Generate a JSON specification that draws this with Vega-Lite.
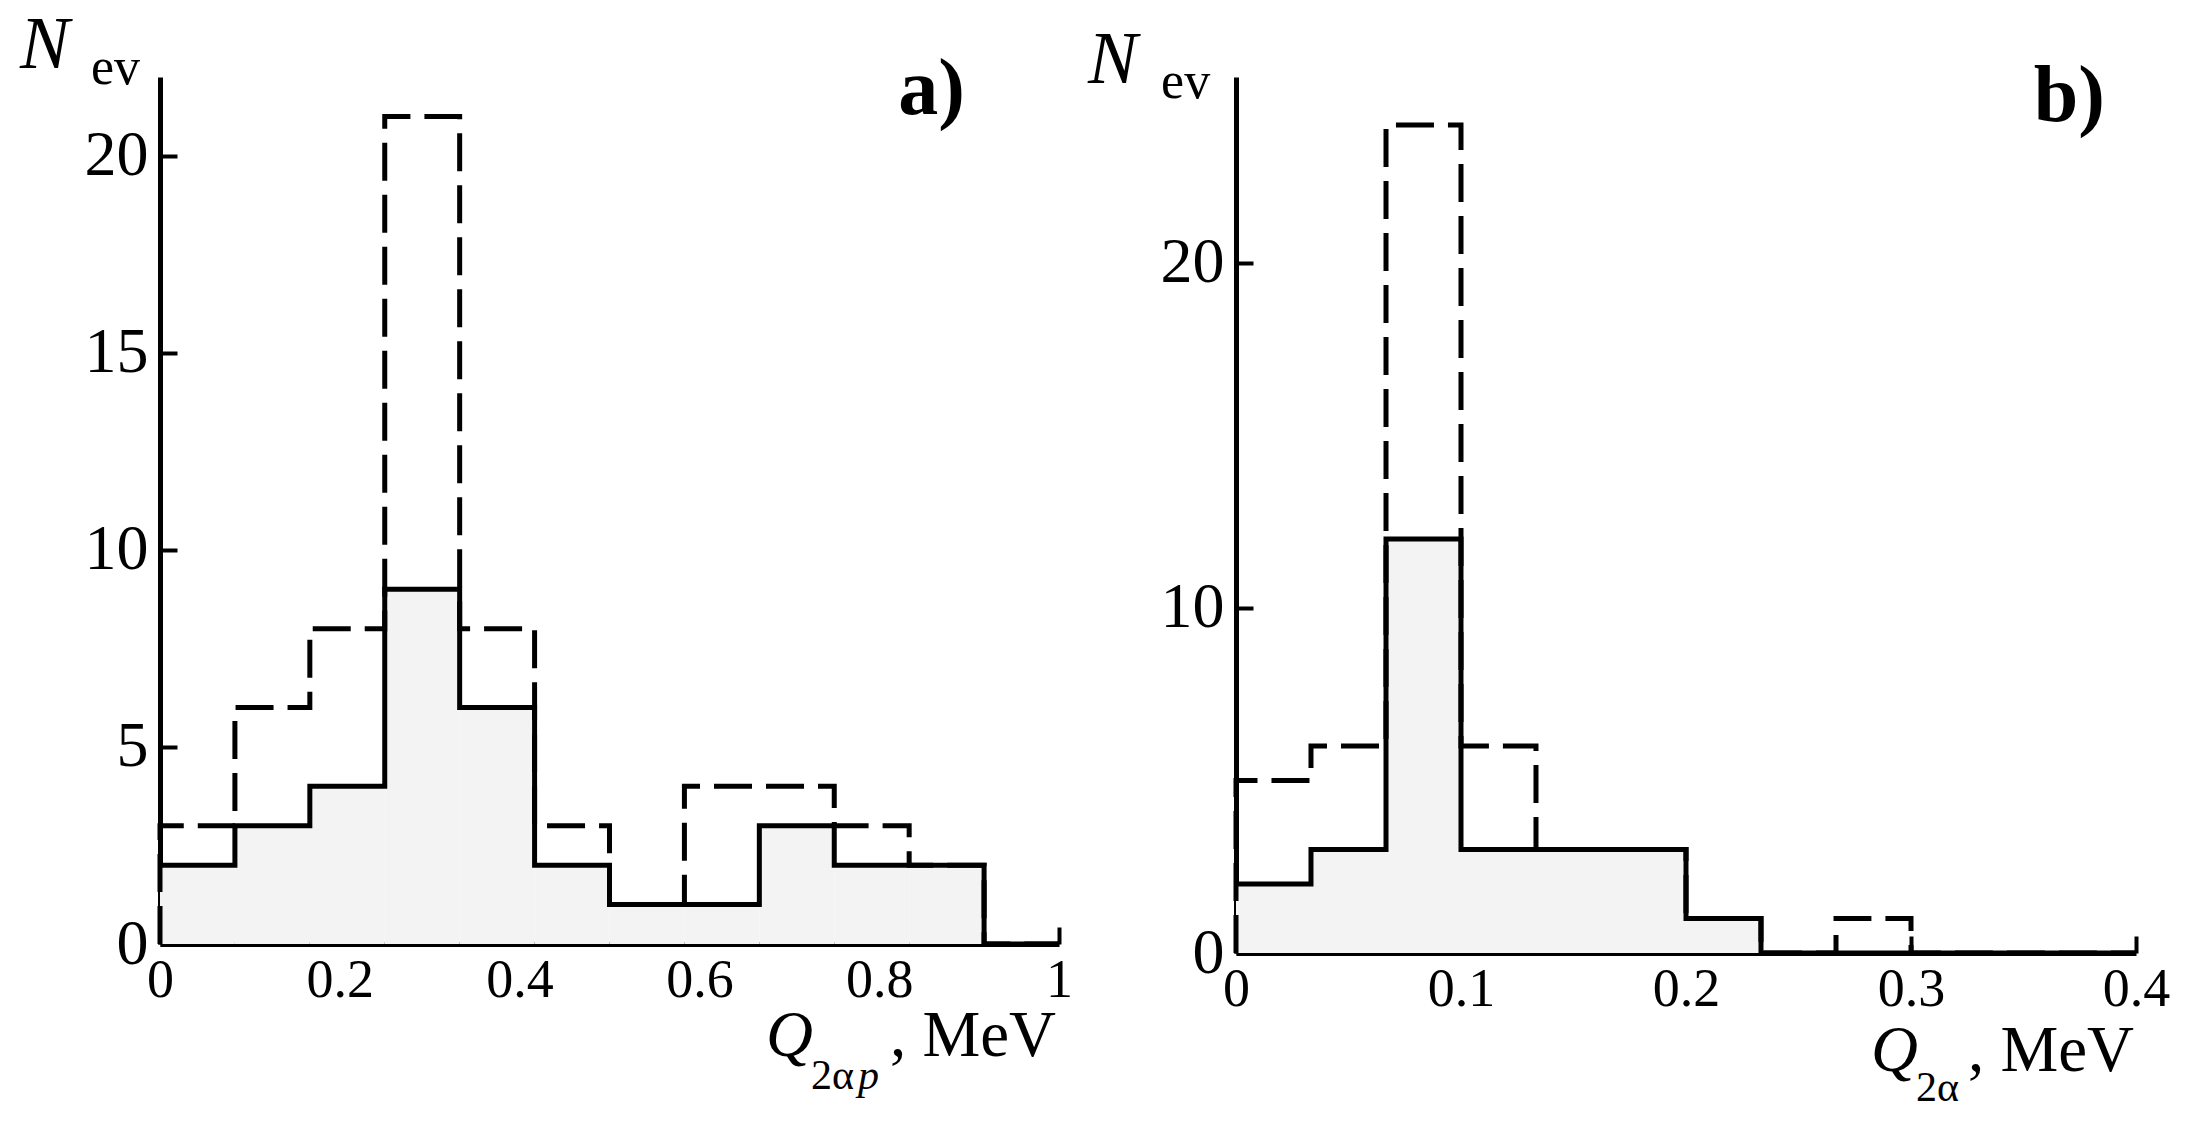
{
  "$schema": "https://vega.github.io/schema/vega-lite/v6.json",
  "background": "white",
  "padding": {"left": 20, "top": 8, "right": 0, "bottom": 0},
  "spacing": 177,
  "bounds": "flush",
  "config": {
    "view": {"stroke": null},
    "font": "Liberation Serif",
    "axis": {
      "domainColor": "black",
      "domainWidth": 5,
      "tickColor": "black",
      "tickWidth": 4,
      "tickSize": -17,
      "labelFont": "Liberation Serif",
      "labelColor": "black",
      "grid": false,
      "title": null,
      "labelFlush": false,
      "labelOverlap": false,
      "labelExpr": "'' + datum.value"
    },
    "axisX": {"labelFontSize": 54, "labelPadding": 26},
    "axisY": {"labelFontSize": 64, "labelPadding": 29},
    "text": {"color": "black", "font": "Liberation Serif", "baseline": "alphabetic", "clip": false, "align": "left"}
  },
  "hconcat": [
    {
      "width": 899,
      "height": 867,
      "data": {
        "values": [
          {"s": "solid", "i": 1, "q": 0, "n": 2},
          {"s": "solid", "i": 2, "q": 0.08333, "n": 3},
          {"s": "solid", "i": 3, "q": 0.16667, "n": 4},
          {"s": "solid", "i": 4, "q": 0.25, "n": 9},
          {"s": "solid", "i": 5, "q": 0.33333, "n": 6},
          {"s": "solid", "i": 6, "q": 0.41667, "n": 2},
          {"s": "solid", "i": 7, "q": 0.5, "n": 1},
          {"s": "solid", "i": 8, "q": 0.58333, "n": 1},
          {"s": "solid", "i": 9, "q": 0.66667, "n": 3},
          {"s": "solid", "i": 10, "q": 0.75, "n": 2},
          {"s": "solid", "i": 11, "q": 0.83333, "n": 2},
          {"s": "solid", "i": 12, "q": 0.91667, "n": 0},
          {"s": "solid", "i": 13, "q": 1, "n": 0},
          {"s": "dashed", "i": 0, "q": 0, "n": 0},
          {"s": "dashed", "i": 1, "q": 0, "n": 3},
          {"s": "dashed", "i": 2, "q": 0.08333, "n": 6},
          {"s": "dashed", "i": 3, "q": 0.16667, "n": 8},
          {"s": "dashed", "i": 4, "q": 0.25, "n": 21},
          {"s": "dashed", "i": 5, "q": 0.33333, "n": 8},
          {"s": "dashed", "i": 6, "q": 0.41667, "n": 3},
          {"s": "dashed", "i": 7, "q": 0.5, "n": 1},
          {"s": "dashed", "i": 8, "q": 0.58333, "n": 4},
          {"s": "dashed", "i": 9, "q": 0.66667, "n": 4},
          {"s": "dashed", "i": 10, "q": 0.75, "n": 3},
          {"s": "dashed", "i": 11, "q": 0.83333, "n": 2},
          {"s": "dashed", "i": 12, "q": 0.91667, "n": 0},
          {"s": "dashed", "i": 13, "q": 1, "n": 0}
        ]
      },
      "layer": [
        {
          "transform": [{"filter": "datum.s == 'solid'"}],
          "mark": {"type": "area", "interpolate": "step-after", "color": "#f3f3f3"},
          "encoding": {
            "x": {
              "field": "q",
              "type": "quantitative",
              "scale": {"domain": [0, 1], "nice": false, "zero": false},
              "axis": {"values": [0, 0.2, 0.4, 0.6, 0.8, 1]}
            },
            "y": {
              "field": "n",
              "type": "quantitative",
              "scale": {"domain": [0, 22], "nice": false},
              "axis": {"values": [0, 5, 10, 15, 20]}
            },
            "order": {"field": "i"}
          }
        },
        {
          "transform": [{"filter": "datum.s == 'dashed'"}],
          "mark": {"type": "line", "interpolate": "step-after", "color": "black", "strokeWidth": 5, "strokeDash": [38, 14]},
          "encoding": {"x": {"field": "q", "type": "quantitative"}, "y": {"field": "n", "type": "quantitative"}, "order": {"field": "i"}}
        },
        {
          "transform": [{"filter": "datum.s == 'solid'"}],
          "mark": {"type": "line", "interpolate": "step-after", "color": "black", "strokeWidth": 5},
          "encoding": {"x": {"field": "q", "type": "quantitative"}, "y": {"field": "n", "type": "quantitative"}, "order": {"field": "i"}}
        },
        {
          "data": {"values": [{"k": 1}]},
          "mark": {"type": "text", "fontStyle": "italic", "fontSize": 74},
          "encoding": {"x": {"datum": -0.1557, "type": "quantitative"}, "y": {"datum": 22.23, "type": "quantitative"}, "text": {"value": "N"}}
        },
        {
          "data": {"values": [{"k": 1}]},
          "mark": {"type": "text", "fontSize": 52},
          "encoding": {"x": {"datum": -0.0768, "type": "quantitative"}, "y": {"datum": 21.82, "type": "quantitative"}, "text": {"value": "ev"}}
        },
        {
          "data": {"values": [{"k": 1}]},
          "mark": {"type": "text", "fontSize": 80, "fontWeight": "bold", "align": "right"},
          "encoding": {"x": {"datum": 0.8954, "type": "quantitative"}, "y": {"datum": 21.06, "type": "quantitative"}, "text": {"value": "a)"}}
        },
        {
          "data": {"values": [{"k": 1}]},
          "mark": {"type": "text", "fontStyle": "italic", "fontSize": 65},
          "encoding": {"x": {"datum": 0.674, "type": "quantitative"}, "y": {"datum": -2.842, "type": "quantitative"}, "text": {"value": "Q"}}
        },
        {
          "data": {"values": [{"k": 1}]},
          "mark": {"type": "text", "fontSize": 42},
          "encoding": {"x": {"datum": 0.7241, "type": "quantitative"}, "y": {"datum": -3.679, "type": "quantitative"}, "text": {"value": "2α"}}
        },
        {
          "data": {"values": [{"k": 1}]},
          "mark": {"type": "text", "fontStyle": "italic", "fontSize": 42},
          "encoding": {"x": {"datum": 0.7764, "type": "quantitative"}, "y": {"datum": -3.679, "type": "quantitative"}, "text": {"value": "p"}}
        },
        {
          "data": {"values": [{"k": 1}]},
          "mark": {"type": "text", "fontSize": 65, "align": "right"},
          "encoding": {"x": {"datum": 0.9967, "type": "quantitative"}, "y": {"datum": -2.842, "type": "quantitative"}, "text": {"value": ", MeV"}}
        }
      ]
    },
    {
      "width": 900,
      "height": 876,
      "data": {
        "values": [
          {"s": "solid", "i": 1, "q": 0, "n": 2},
          {"s": "solid", "i": 2, "q": 0.03333, "n": 3},
          {"s": "solid", "i": 3, "q": 0.06667, "n": 12},
          {"s": "solid", "i": 4, "q": 0.1, "n": 3},
          {"s": "solid", "i": 5, "q": 0.13333, "n": 3},
          {"s": "solid", "i": 6, "q": 0.16667, "n": 3},
          {"s": "solid", "i": 7, "q": 0.2, "n": 1},
          {"s": "solid", "i": 8, "q": 0.23333, "n": 0},
          {"s": "solid", "i": 9, "q": 0.4, "n": 0},
          {"s": "dashed", "i": 0, "q": 0, "n": 0},
          {"s": "dashed", "i": 1, "q": 0, "n": 5},
          {"s": "dashed", "i": 2, "q": 0.03333, "n": 6},
          {"s": "dashed", "i": 3, "q": 0.06667, "n": 24},
          {"s": "dashed", "i": 4, "q": 0.1, "n": 6},
          {"s": "dashed", "i": 5, "q": 0.13333, "n": 3},
          {"s": "dashed", "i": 6, "q": 0.16667, "n": 3},
          {"s": "dashed", "i": 7, "q": 0.2, "n": 1},
          {"s": "dashed", "i": 8, "q": 0.23333, "n": 0},
          {"s": "dashed", "i": 9, "q": 0.26667, "n": 1},
          {"s": "dashed", "i": 10, "q": 0.3, "n": 0},
          {"s": "dashed", "i": 11, "q": 0.4, "n": 0}
        ]
      },
      "layer": [
        {
          "transform": [{"filter": "datum.s == 'solid'"}],
          "mark": {"type": "area", "interpolate": "step-after", "color": "#f3f3f3"},
          "encoding": {
            "x": {
              "field": "q",
              "type": "quantitative",
              "scale": {"domain": [0, 0.4], "nice": false, "zero": false},
              "axis": {"values": [0, 0.1, 0.2, 0.3, 0.4]}
            },
            "y": {
              "field": "n",
              "type": "quantitative",
              "scale": {"domain": [0, 25.39], "nice": false},
              "axis": {"values": [0, 10, 20]}
            },
            "order": {"field": "i"}
          }
        },
        {
          "transform": [{"filter": "datum.s == 'dashed'"}],
          "mark": {"type": "line", "interpolate": "step-after", "color": "black", "strokeWidth": 5, "strokeDash": [38, 14]},
          "encoding": {"x": {"field": "q", "type": "quantitative"}, "y": {"field": "n", "type": "quantitative"}, "order": {"field": "i"}}
        },
        {
          "transform": [{"filter": "datum.s == 'solid'"}],
          "mark": {"type": "line", "interpolate": "step-after", "color": "black", "strokeWidth": 5},
          "encoding": {"x": {"field": "q", "type": "quantitative"}, "y": {"field": "n", "type": "quantitative"}, "order": {"field": "i"}}
        },
        {
          "data": {"values": [{"k": 1}]},
          "mark": {"type": "text", "fontStyle": "italic", "fontSize": 74},
          "encoding": {"x": {"datum": -0.0658, "type": "quantitative"}, "y": {"datum": 25.22, "type": "quantitative"}, "text": {"value": "N"}}
        },
        {
          "data": {"values": [{"k": 1}]},
          "mark": {"type": "text", "fontSize": 52},
          "encoding": {"x": {"datum": -0.0333, "type": "quantitative"}, "y": {"datum": 24.78, "type": "quantitative"}, "text": {"value": "ev"}}
        },
        {
          "data": {"values": [{"k": 1}]},
          "mark": {"type": "text", "fontSize": 80, "fontWeight": "bold", "align": "right"},
          "encoding": {"x": {"datum": 0.3862, "type": "quantitative"}, "y": {"datum": 24.12, "type": "quantitative"}, "text": {"value": "b)"}}
        },
        {
          "data": {"values": [{"k": 1}]},
          "mark": {"type": "text", "fontStyle": "italic", "fontSize": 65},
          "encoding": {"x": {"datum": 0.2822, "type": "quantitative"}, "y": {"datum": -3.42, "type": "quantitative"}, "text": {"value": "Q"}}
        },
        {
          "data": {"values": [{"k": 1}]},
          "mark": {"type": "text", "fontSize": 42},
          "encoding": {"x": {"datum": 0.3022, "type": "quantitative"}, "y": {"datum": -4.29, "type": "quantitative"}, "text": {"value": "2α"}}
        },
        {
          "data": {"values": [{"k": 1}]},
          "mark": {"type": "text", "fontSize": 65, "align": "right"},
          "encoding": {"x": {"datum": 0.3991, "type": "quantitative"}, "y": {"datum": -3.42, "type": "quantitative"}, "text": {"value": ", MeV"}}
        }
      ]
    }
  ]
}
